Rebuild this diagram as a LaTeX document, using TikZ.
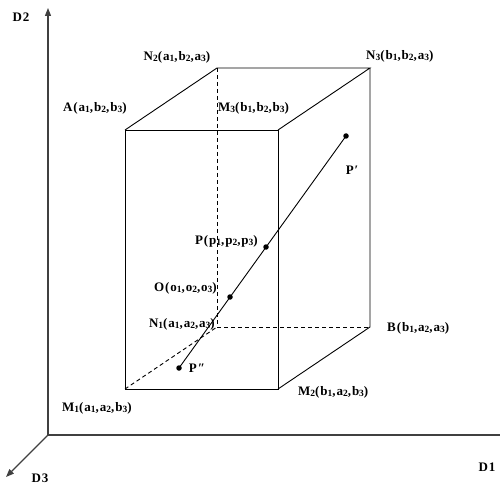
\documentclass[tikz,border=0pt]{standalone}
\usepackage{fontspec}
\setmainfont{Liberation Serif}
\newfontfamily\lblfont[LetterSpace=7]{Liberation Serif}
\usetikzlibrary{arrows.meta}
\newcommand{\sbs}[1]{\raisebox{-0.3ex}{\fontsize{9.5}{10}\selectfont #1}}
\begin{document}
\begin{tikzpicture}[x=1pt,y=-1pt,
  axis/.style={draw=black!75,line width=1.2pt},
  edge/.style={draw=black,line width=0.9pt},
  hidden/.style={draw=black,line width=0.9pt,dash pattern=on 4pt off 3pt},
  lbl/.style={font=\lblfont\bfseries\fontsize{13}{15}\selectfont,inner sep=0pt},
  dot/.style={circle,fill=black,inner sep=0pt,minimum size=5.5pt}]
\useasboundingbox (0,0) rectangle (500,486);
% axes
\coordinate (O0) at (48,435);
\coordinate (D2end) at (48,8);
\coordinate (D1end) at (500,435);
\coordinate (D3end) at (6,477);
\draw[axis,-{Triangle[length=8pt,width=6pt]}] (O0) -- (D2end);
\draw[axis] (O0) -- (D1end);
\draw[axis,-{Triangle[length=8pt,width=6pt]}] (O0) -- (D3end);
\node[lbl] (d2) at (21,17) {D2};
\node[lbl] (d1) at (487,467) {D1};
\node[lbl] (d3) at (40,478) {D3};
% box corners
\coordinate (A) at (125,130);
\coordinate (M3) at (278,130);
\coordinate (M1) at (125,389);
\coordinate (M2) at (278,389);
\coordinate (N2) at (217,68);
\coordinate (N3) at (370,68);
\coordinate (N1) at (217,327);
\coordinate (B) at (370,327);
% hidden edges
\draw[hidden] (N2) -- (N1);
\draw[hidden] (N1) -- (B);
\draw[hidden] (M1) -- (N1);
% visible edges
\draw[edge] (A) -- (M3) -- (M2) -- (M1) -- cycle;
\draw[edge] (A) -- (N2) -- (N3) -- (M3);
\draw[edge] (N3) -- (B) -- (M2);
% line through points
\node[dot] (Pp) at (346,136) {};
\node[dot] (Ppp) at (179,368) {};
\node[dot] (P) at (266,247) {};
\node[dot] (O) at (230,297) {};
\draw[edge] (Pp.center) -- (Ppp.center);
% labels
\node[lbl] (lN2) at (177,57) {N\sbs{2}(a\sbs{1},b\sbs{2},a\sbs{3})};
\node[lbl,anchor=west] (lN3) at (366,56) {N\sbs{3}(b\sbs{1},b\sbs{2},a\sbs{3})};
\node[lbl,anchor=west] (lA) at (63,108) {A(a\sbs{1},b\sbs{2},b\sbs{3})};
\node[lbl,anchor=west] (lM3) at (218,108) {M\sbs{3}(b\sbs{1},b\sbs{2},b\sbs{3})};
\node[lbl] (lPp) at (352,170) {P′};
\node[lbl,anchor=east] (lP) at (258,241) {P(p\sbs{1},p\sbs{2},p\sbs{3})};
\node[lbl,anchor=east] (lO) at (217,288) {O(o\sbs{1},o\sbs{2},o\sbs{3})};
\node[lbl,anchor=east] (lN1) at (215,324) {N\sbs{1}(a\sbs{1},a\sbs{2},a\sbs{3})};
\node[lbl] (lPpp) at (197,368) {P″};
\node[lbl,anchor=west] (lM1) at (62,408) {M\sbs{1}(a\sbs{1},a\sbs{2},b\sbs{3})};
\node[lbl,anchor=west] (lM2) at (298,392) {M\sbs{2}(b\sbs{1},a\sbs{2},b\sbs{3})};
\node[lbl,anchor=west] (lB) at (387,328) {B(b\sbs{1},a\sbs{2},a\sbs{3})};
\end{tikzpicture}
\end{document}
